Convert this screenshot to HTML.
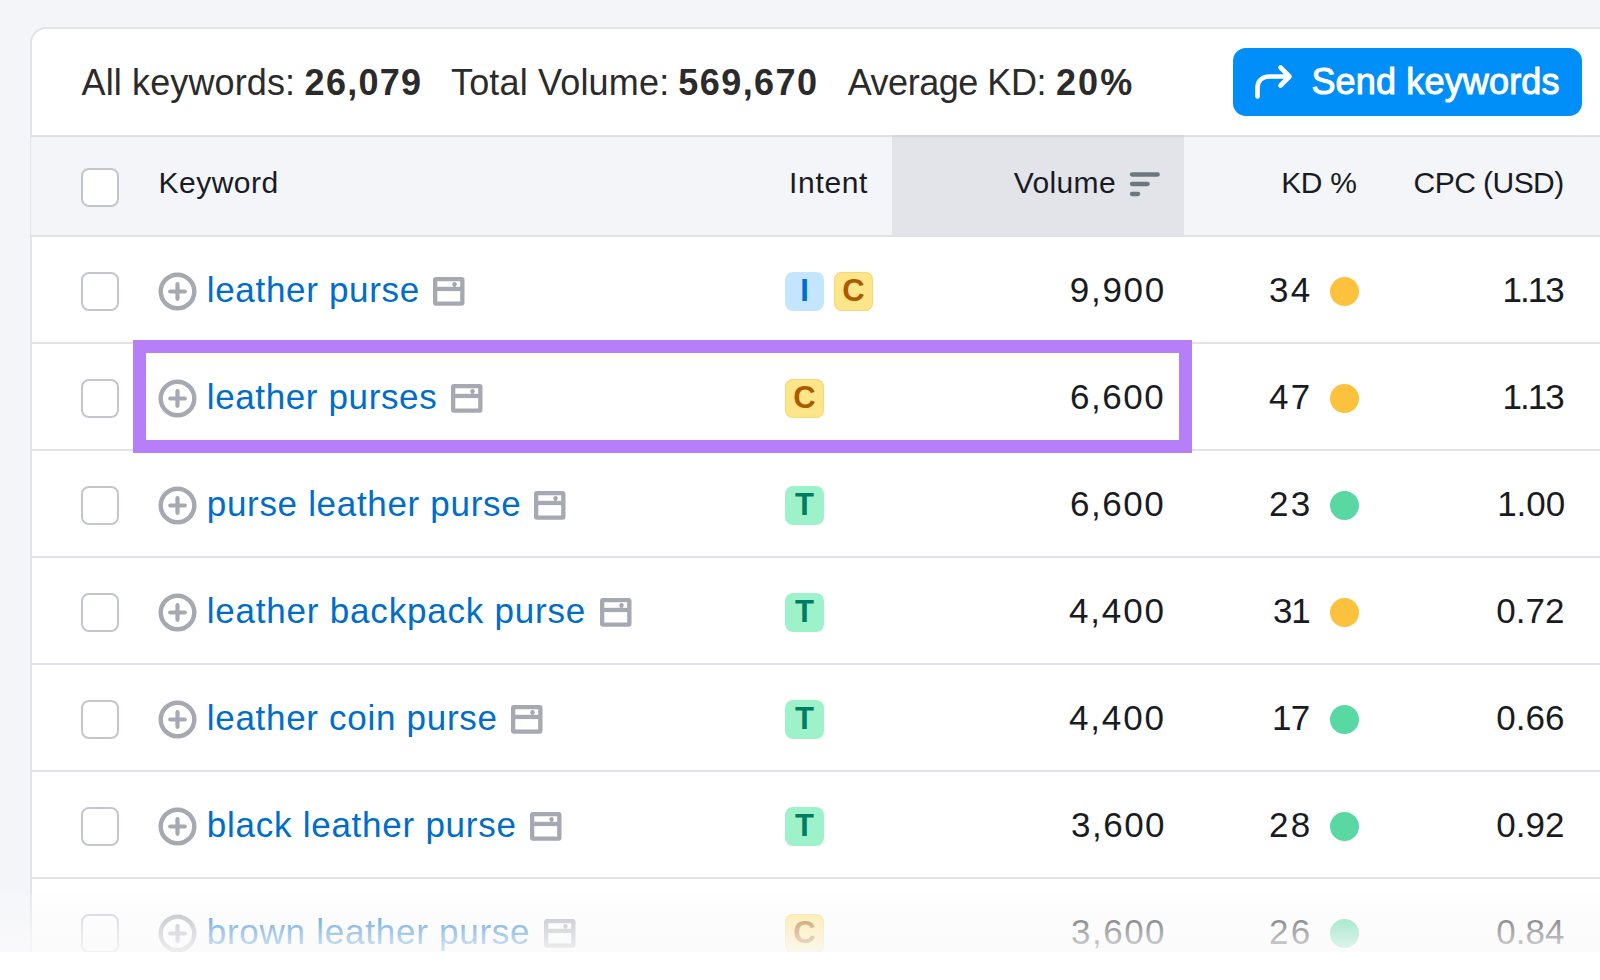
<!DOCTYPE html>
<html><head><meta charset="utf-8">
<style>
*{margin:0;padding:0;box-sizing:border-box}
html,body{width:1600px;height:980px;overflow:hidden;background:#f4f5f9;font-family:"Liberation Sans",sans-serif}
.abs{position:absolute}
#card{position:absolute;left:30px;top:27px;width:1620px;height:1000px;background:#fff;border:2px solid #e2e3ea;border-radius:16px}
.t{position:absolute;white-space:nowrap;line-height:1}
.sep{position:absolute;left:31px;width:1600px;height:2px;background:#e0e1e9}
.cb{position:absolute;left:81px;width:38px;height:39px;border:2px solid #c3c6ce;border-radius:8px;background:#fff}
.badge{position:absolute;width:39px;height:39px;border-radius:8px}
.bi{background:#c4e5fe}
.bc{background:#fde58a;box-shadow:inset 0 0 0 1px #f8d777}
.bt{background:#9ef2c9}
.dot{position:absolute;width:29px;height:29px;border-radius:50%}
.y{background:#fcc13d}
.g{background:#59d8a4}
#fade{position:absolute;left:0;top:893px;width:1600px;height:87px;background:linear-gradient(to bottom,rgba(250,250,251,.22) 0px,rgba(250,250,251,.86) 59px,#fff 59px)}
</style></head><body>
<div id="card"></div>
<div class="t" style="left:81.5px;top:65.00px;font-size:36px;color:#2b2b2b;letter-spacing:0.125px;">All keywords:</div>
<div class="t" style="left:304.6px;top:65.00px;font-size:36px;font-weight:700;color:#2b2b2b;letter-spacing:1.28px;">26,079</div>
<div class="t" style="left:451px;top:65.00px;font-size:36px;color:#2b2b2b;letter-spacing:0.167px;">Total Volume:</div>
<div class="t" style="left:678.2px;top:65.00px;font-size:36px;font-weight:700;color:#2b2b2b;letter-spacing:1.467px;">569,670</div>
<div class="t" style="left:847.7px;top:65.00px;font-size:36px;color:#2b2b2b;letter-spacing:-0.47px;">Average KD:</div>
<div class="t" style="left:1055.9px;top:65.00px;font-size:36px;font-weight:700;color:#2b2b2b;letter-spacing:2.15px;">20%</div>
<div class="abs" style="left:1233px;top:48px;width:349px;height:68px;background:#008ff8;border-radius:13px"></div>
<svg class="abs" style="left:1233px;top:48px" width="349" height="68" viewBox="0 0 349 68"><path d="M24.5 48.5 V40 C24.5 32 30 28.5 37 28.5 H55.5" fill="none" stroke="#fff" stroke-width="4.6" stroke-linecap="round" stroke-linejoin="round"/><path d="M47.5 19.5 L56.5 28.5 L47.5 37.5" fill="none" stroke="#fff" stroke-width="4.6" stroke-linecap="round" stroke-linejoin="round"/></svg>
<div class="t" style="left:1311.4px;top:63.73px;font-size:36px;color:#fff;letter-spacing:0.167px;-webkit-text-stroke:1px #fff">Send keywords</div>
<div class="sep" style="top:135px"></div>
<div class="abs" style="left:31px;top:137px;width:1600px;height:98px;background:#f4f5f9"></div>
<div class="abs" style="left:892px;top:137px;width:292px;height:98px;background:#e2e4ea"></div>
<div class="abs" style="left:892px;top:135px;width:292px;height:2px;background:#d5d7df"></div>
<div class="sep" style="top:235px"></div>
<div class="cb" style="top:168px"></div>
<div class="t" style="left:158.5px;top:168.00px;font-size:30px;color:#191b23;letter-spacing:0.483px;">Keyword</div>
<div class="t" style="left:789px;top:168.00px;font-size:30px;color:#191b23;letter-spacing:0.68px;">Intent</div>
<div class="t" style="left:1013.7px;top:168.00px;font-size:30px;color:#191b23;letter-spacing:0.38px;">Volume</div>
<svg class="abs" style="left:1128px;top:170px" width="34" height="28" viewBox="0 0 34 28"><g stroke="#6b7880" stroke-width="4.3" stroke-linecap="round"><path d="M4 4.5H29.7"/><path d="M4 14H19.6"/><path d="M4 24H10.1"/></g></svg>
<div class="t" style="left:1281.2px;top:168.00px;font-size:30px;color:#191b23;letter-spacing:-0.333px;">KD %</div>
<div class="t" style="right:36.34999999999991px;top:168.00px;font-size:30px;color:#191b23;letter-spacing:-0.55px;">CPC (USD)</div>
<div class="cb" style="top:271.8px"></div>
<svg class="abs" style="left:156px;top:269.8px" width="43" height="43" viewBox="0 0 43 43"><circle cx="21.5" cy="21.5" r="16.8" fill="none" stroke="#a6a8b2" stroke-width="4.4"/><path d="M21.5 14.2V28.8M14.2 21.5H28.8" stroke="#a6a8b2" stroke-width="4.2" stroke-linecap="round"/></svg>
<div class="t" style="left:206.75px;top:272.17px;font-size:35px;color:#006dca;letter-spacing:0.679px;">leather purse</div>
<svg class="abs" style="left:433.10px;top:276.90px" width="32" height="29" viewBox="0 0 32 29"><rect x="2.15" y="2.15" width="27.2" height="24.4" rx="0.8" fill="none" stroke="#a6a8b2" stroke-width="4.3"/><path d="M2 11.95H29.5" stroke="#a6a8b2" stroke-width="4.3"/><circle cx="21.5" cy="7.3" r="2.2" fill="#a6a8b2"/><rect x="20.3" y="7.3" width="2.4" height="3" fill="#a6a8b2"/></svg>
<div class="badge bi" style="left:785px;top:271.8px"></div>
<div class="t" style="left:785px;top:275.01px;font-size:31px;font-weight:700;color:#006dca;width:39px;text-align:center">I</div>
<div class="badge bc" style="left:834px;top:271.8px"></div>
<div class="t" style="left:834px;top:275.01px;font-size:31px;font-weight:700;color:#ab5b00;width:39px;text-align:center">C</div>
<div class="t" style="right:434.1099999999999px;top:272.17px;font-size:35px;color:#191b23;letter-spacing:1.7px;">9,900</div>
<div class="t" style="right:287.56999999999994px;top:272.17px;font-size:35px;color:#191b23;letter-spacing:2.3px;">34</div>
<div class="dot y" style="left:1330px;top:276.8px"></div>
<div class="t" style="right:37.27999999999997px;top:272.17px;font-size:35px;color:#191b23;letter-spacing:-2.0px;">1.13</div>
<div class="sep" style="top:342px"></div>
<div class="cb" style="top:378.8px"></div>
<svg class="abs" style="left:156px;top:376.8px" width="43" height="43" viewBox="0 0 43 43"><circle cx="21.5" cy="21.5" r="16.8" fill="none" stroke="#a6a8b2" stroke-width="4.4"/><path d="M21.5 14.2V28.8M14.2 21.5H28.8" stroke="#a6a8b2" stroke-width="4.2" stroke-linecap="round"/></svg>
<div class="t" style="left:206.75px;top:379.17px;font-size:35px;color:#006dca;letter-spacing:0.627px;">leather purses</div>
<svg class="abs" style="left:451.10px;top:383.90px" width="32" height="29" viewBox="0 0 32 29"><rect x="2.15" y="2.15" width="27.2" height="24.4" rx="0.8" fill="none" stroke="#a6a8b2" stroke-width="4.3"/><path d="M2 11.95H29.5" stroke="#a6a8b2" stroke-width="4.3"/><circle cx="21.5" cy="7.3" r="2.2" fill="#a6a8b2"/><rect x="20.3" y="7.3" width="2.4" height="3" fill="#a6a8b2"/></svg>
<div class="badge bc" style="left:785px;top:378.8px"></div>
<div class="t" style="left:785px;top:382.01px;font-size:31px;font-weight:700;color:#ab5b00;width:39px;text-align:center">C</div>
<div class="t" style="right:434.78px;top:379.17px;font-size:35px;color:#191b23;letter-spacing:1.525px;">6,600</div>
<div class="t" style="right:287.56999999999994px;top:379.17px;font-size:35px;color:#191b23;letter-spacing:2.3px;">47</div>
<div class="dot y" style="left:1330px;top:383.8px"></div>
<div class="t" style="right:37.27999999999997px;top:379.17px;font-size:35px;color:#191b23;letter-spacing:-2.0px;">1.13</div>
<div class="sep" style="top:449px"></div>
<div class="cb" style="top:485.8px"></div>
<svg class="abs" style="left:156px;top:483.8px" width="43" height="43" viewBox="0 0 43 43"><circle cx="21.5" cy="21.5" r="16.8" fill="none" stroke="#a6a8b2" stroke-width="4.4"/><path d="M21.5 14.2V28.8M14.2 21.5H28.8" stroke="#a6a8b2" stroke-width="4.2" stroke-linecap="round"/></svg>
<div class="t" style="left:206.75px;top:486.17px;font-size:35px;color:#006dca;letter-spacing:0.686px;">purse leather purse</div>
<svg class="abs" style="left:534.40px;top:490.90px" width="32" height="29" viewBox="0 0 32 29"><rect x="2.15" y="2.15" width="27.2" height="24.4" rx="0.8" fill="none" stroke="#a6a8b2" stroke-width="4.3"/><path d="M2 11.95H29.5" stroke="#a6a8b2" stroke-width="4.3"/><circle cx="21.5" cy="7.3" r="2.2" fill="#a6a8b2"/><rect x="20.3" y="7.3" width="2.4" height="3" fill="#a6a8b2"/></svg>
<div class="badge bt" style="left:785px;top:485.8px"></div>
<div class="t" style="left:785px;top:489.01px;font-size:31px;font-weight:700;color:#007c65;width:39px;text-align:center">T</div>
<div class="t" style="right:434.78px;top:486.17px;font-size:35px;color:#191b23;letter-spacing:1.525px;">6,600</div>
<div class="t" style="right:287.56999999999994px;top:486.17px;font-size:35px;color:#191b23;letter-spacing:2.3px;">23</div>
<div class="dot g" style="left:1330px;top:490.8px"></div>
<div class="t" style="right:34.940000000000055px;top:486.17px;font-size:35px;color:#191b23;letter-spacing:-0.067px;">1.00</div>
<div class="sep" style="top:556px"></div>
<div class="cb" style="top:592.8px"></div>
<svg class="abs" style="left:156px;top:590.8px" width="43" height="43" viewBox="0 0 43 43"><circle cx="21.5" cy="21.5" r="16.8" fill="none" stroke="#a6a8b2" stroke-width="4.4"/><path d="M21.5 14.2V28.8M14.2 21.5H28.8" stroke="#a6a8b2" stroke-width="4.2" stroke-linecap="round"/></svg>
<div class="t" style="left:206.75px;top:593.17px;font-size:35px;color:#006dca;letter-spacing:0.793px;">leather backpack purse</div>
<svg class="abs" style="left:599.60px;top:597.90px" width="32" height="29" viewBox="0 0 32 29"><rect x="2.15" y="2.15" width="27.2" height="24.4" rx="0.8" fill="none" stroke="#a6a8b2" stroke-width="4.3"/><path d="M2 11.95H29.5" stroke="#a6a8b2" stroke-width="4.3"/><circle cx="21.5" cy="7.3" r="2.2" fill="#a6a8b2"/><rect x="20.3" y="7.3" width="2.4" height="3" fill="#a6a8b2"/></svg>
<div class="badge bt" style="left:785px;top:592.8px"></div>
<div class="t" style="left:785px;top:596.01px;font-size:31px;font-weight:700;color:#007c65;width:39px;text-align:center">T</div>
<div class="t" style="right:434.28px;top:593.17px;font-size:35px;color:#191b23;letter-spacing:1.825px;">4,400</div>
<div class="t" style="right:290.47px;top:593.17px;font-size:35px;color:#191b23;letter-spacing:-1.2px;">31</div>
<div class="dot y" style="left:1330px;top:597.8px"></div>
<div class="t" style="right:35.430000000000064px;top:593.17px;font-size:35px;color:#191b23;letter-spacing:0.033px;">0.72</div>
<div class="sep" style="top:663px"></div>
<div class="cb" style="top:699.8px"></div>
<svg class="abs" style="left:156px;top:697.8px" width="43" height="43" viewBox="0 0 43 43"><circle cx="21.5" cy="21.5" r="16.8" fill="none" stroke="#a6a8b2" stroke-width="4.4"/><path d="M21.5 14.2V28.8M14.2 21.5H28.8" stroke="#a6a8b2" stroke-width="4.2" stroke-linecap="round"/></svg>
<div class="t" style="left:206.75px;top:700.17px;font-size:35px;color:#006dca;letter-spacing:0.703px;">leather coin purse</div>
<svg class="abs" style="left:510.90px;top:704.90px" width="32" height="29" viewBox="0 0 32 29"><rect x="2.15" y="2.15" width="27.2" height="24.4" rx="0.8" fill="none" stroke="#a6a8b2" stroke-width="4.3"/><path d="M2 11.95H29.5" stroke="#a6a8b2" stroke-width="4.3"/><circle cx="21.5" cy="7.3" r="2.2" fill="#a6a8b2"/><rect x="20.3" y="7.3" width="2.4" height="3" fill="#a6a8b2"/></svg>
<div class="badge bt" style="left:785px;top:699.8px"></div>
<div class="t" style="left:785px;top:703.01px;font-size:31px;font-weight:700;color:#007c65;width:39px;text-align:center">T</div>
<div class="t" style="right:434.28px;top:700.17px;font-size:35px;color:#191b23;letter-spacing:1.825px;">4,400</div>
<div class="t" style="right:290.6600000000001px;top:700.17px;font-size:35px;color:#191b23;letter-spacing:-0.8px;">17</div>
<div class="dot g" style="left:1330px;top:704.8px"></div>
<div class="t" style="right:35.430000000000064px;top:700.17px;font-size:35px;color:#191b23;letter-spacing:0.033px;">0.66</div>
<div class="sep" style="top:770px"></div>
<div class="cb" style="top:806.8px"></div>
<svg class="abs" style="left:156px;top:804.8px" width="43" height="43" viewBox="0 0 43 43"><circle cx="21.5" cy="21.5" r="16.8" fill="none" stroke="#a6a8b2" stroke-width="4.4"/><path d="M21.5 14.2V28.8M14.2 21.5H28.8" stroke="#a6a8b2" stroke-width="4.2" stroke-linecap="round"/></svg>
<div class="t" style="left:206.75px;top:807.17px;font-size:35px;color:#006dca;letter-spacing:0.747px;">black leather purse</div>
<svg class="abs" style="left:529.50px;top:811.90px" width="32" height="29" viewBox="0 0 32 29"><rect x="2.15" y="2.15" width="27.2" height="24.4" rx="0.8" fill="none" stroke="#a6a8b2" stroke-width="4.3"/><path d="M2 11.95H29.5" stroke="#a6a8b2" stroke-width="4.3"/><circle cx="21.5" cy="7.3" r="2.2" fill="#a6a8b2"/><rect x="20.3" y="7.3" width="2.4" height="3" fill="#a6a8b2"/></svg>
<div class="badge bt" style="left:785px;top:806.8px"></div>
<div class="t" style="left:785px;top:810.01px;font-size:31px;font-weight:700;color:#007c65;width:39px;text-align:center">T</div>
<div class="t" style="right:433.9100000000001px;top:807.17px;font-size:35px;color:#191b23;letter-spacing:1.5px;">3,600</div>
<div class="t" style="right:287.56999999999994px;top:807.17px;font-size:35px;color:#191b23;letter-spacing:2.3px;">28</div>
<div class="dot g" style="left:1330px;top:811.8px"></div>
<div class="t" style="right:35.430000000000064px;top:807.17px;font-size:35px;color:#191b23;letter-spacing:0.033px;">0.92</div>
<div class="sep" style="top:877px"></div>
<div class="cb" style="top:913.8px"></div>
<svg class="abs" style="left:156px;top:911.8px" width="43" height="43" viewBox="0 0 43 43"><circle cx="21.5" cy="21.5" r="16.8" fill="none" stroke="#a6a8b2" stroke-width="4.4"/><path d="M21.5 14.2V28.8M14.2 21.5H28.8" stroke="#a6a8b2" stroke-width="4.2" stroke-linecap="round"/></svg>
<div class="t" style="left:206.75px;top:914.17px;font-size:35px;color:#006dca;letter-spacing:0.747px;">brown leather purse</div>
<svg class="abs" style="left:543.50px;top:918.90px" width="32" height="29" viewBox="0 0 32 29"><rect x="2.15" y="2.15" width="27.2" height="24.4" rx="0.8" fill="none" stroke="#a6a8b2" stroke-width="4.3"/><path d="M2 11.95H29.5" stroke="#a6a8b2" stroke-width="4.3"/><circle cx="21.5" cy="7.3" r="2.2" fill="#a6a8b2"/><rect x="20.3" y="7.3" width="2.4" height="3" fill="#a6a8b2"/></svg>
<div class="badge bc" style="left:785px;top:913.8px"></div>
<div class="t" style="left:785px;top:917.01px;font-size:31px;font-weight:700;color:#ab5b00;width:39px;text-align:center">C</div>
<div class="t" style="right:433.9100000000001px;top:914.17px;font-size:35px;color:#191b23;letter-spacing:1.5px;">3,600</div>
<div class="t" style="right:287.56999999999994px;top:914.17px;font-size:35px;color:#191b23;letter-spacing:2.3px;">26</div>
<div class="dot g" style="left:1330px;top:918.8px"></div>
<div class="t" style="right:35.430000000000064px;top:914.17px;font-size:35px;color:#191b23;letter-spacing:0.033px;">0.84</div>
<div class="abs" style="left:133px;top:340px;width:1059px;height:113px;border:13px solid #b67ef7"></div>
<div id="fade"></div>
</body></html>
